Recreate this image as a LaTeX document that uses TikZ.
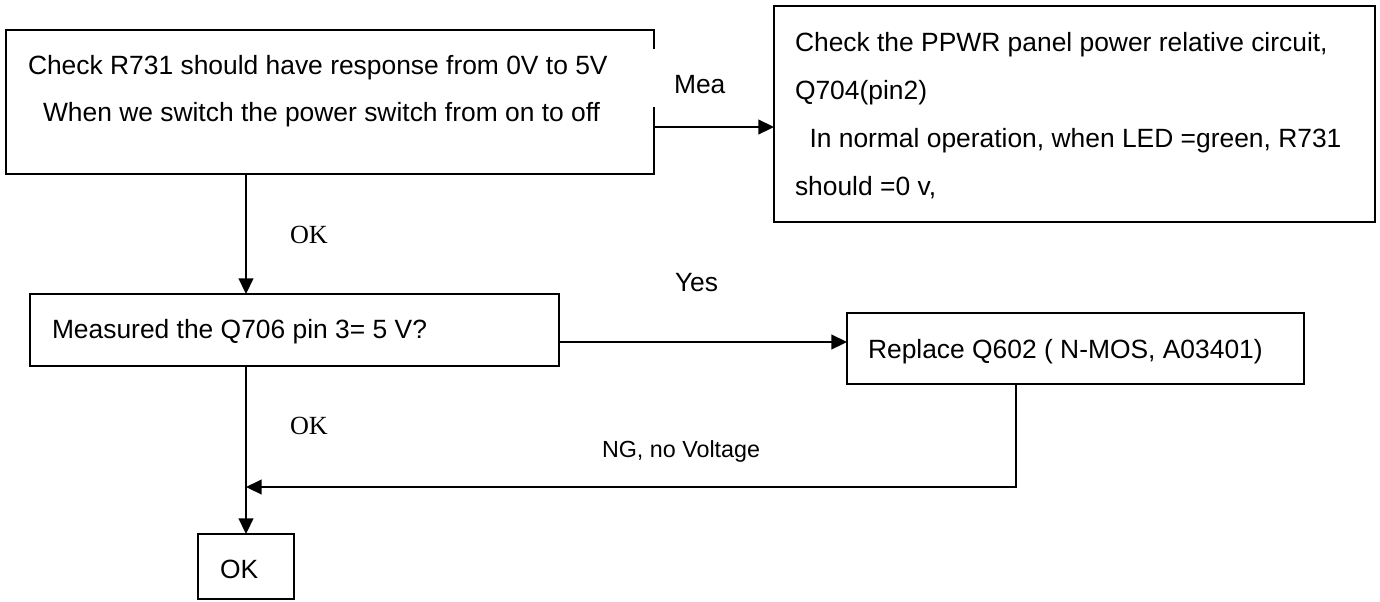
\documentclass[tikz,border=0pt]{standalone}
\usepackage{fontspec}
\setmainfont{Liberation Sans}
\newfontfamily\okserif{Liberation Serif}
\usetikzlibrary{arrows.meta}
\begin{document}
\begin{tikzpicture}[x=0.5pt,y=-0.5pt,
  box/.style={draw=black,line width=0.85pt,inner sep=0pt,outer sep=0pt,fill=white},
  txt/.style={inner sep=0pt,outer sep=0pt,anchor=base west,font=\fontsize{13.2}{15}\selectfont},
  oklab/.style={inner sep=0pt,outer sep=0pt,anchor=base west,font=\okserif\fontsize{13.1}{15}\selectfont},
  conn/.style={line width=0.65pt,draw=black},
  arr/.style={conn,-{Triangle[length=7.8pt,width=7.4pt]}}]
\useasboundingbox (0,0) rectangle (1380,601);
% boxes
\node[box,minimum width=324pt,minimum height=72pt] (box1) at (330,102) {};
\node[box,minimum width=300.5pt,minimum height=108pt] (box2) at (1074.5,114) {};
\node[box,minimum width=264.5pt,minimum height=36pt] (box3) at (294.5,330) {};
\node[box,minimum width=228.5pt,minimum height=35.5pt] (box4) at (1075.5,348.5) {};
\node[box,minimum width=48pt,minimum height=32.5pt] (okbox) at (246,566.5) {};
% box texts
\node[txt] (t1a) at (28,74.5) {Check R731 should have response from 0V to 5V};
\node[txt] (t1b) at (43,121.5) {When we switch the power switch from on to off};
\node[txt] (t2a) at (795,51.5) {Check the PPWR panel power relative circuit,};
\node[txt] (t2b) at (795,99.5) {Q704(pin2)};
\node[txt] (t2c) at (795,147) {\hspace*{7.25pt}In normal operation, when LED =green, R731};
\node[txt] (t2d) at (795,195) {should =0 v,};
\node[txt] (t3) at (52,338) {Measured the Q706 pin 3= 5 V?};
\node[txt] (t4) at (868,358) {Replace Q602 ( N-MOS, A03401)};
\node[txt] (t5) at (220,578) {OK};
% labels
\node[txt,fill=white,inner xsep=11.5pt,inner ysep=0pt,text height=22.25pt,text depth=6.75pt] (mea) at (651,93.5) {Mea};
\node[txt] (yes) at (675,291) {Yes};
\node[txt,font=\fontsize{11.65}{14}\selectfont] (ng) at (602,457.5) {NG, no Voltage};
\node[oklab] (ok1) at (290,243) {OK};
\node[oklab] (ok2) at (290,434) {OK};
% connector coordinates
\coordinate (ya) at (0,127);
\coordinate (yb) at (0,342);
\coordinate (xv) at (246,0);
\coordinate (xn) at (1016,0);
\coordinate (yn) at (0,487);
% connectors
\draw[arr] (box1.east |- ya) -- (box2.west |- ya);
\draw[arr] (box1.south -| xv) -- (box3.north -| xv);
\draw[arr] (box3.east |- yb) -- (box4.west |- yb);
\draw[arr] (box3.south -| xv) -- (okbox.north);
\draw[arr] (box4.south -| xn) -- (xn |- yn) -- (xv |- yn);
\end{tikzpicture}
\end{document}
